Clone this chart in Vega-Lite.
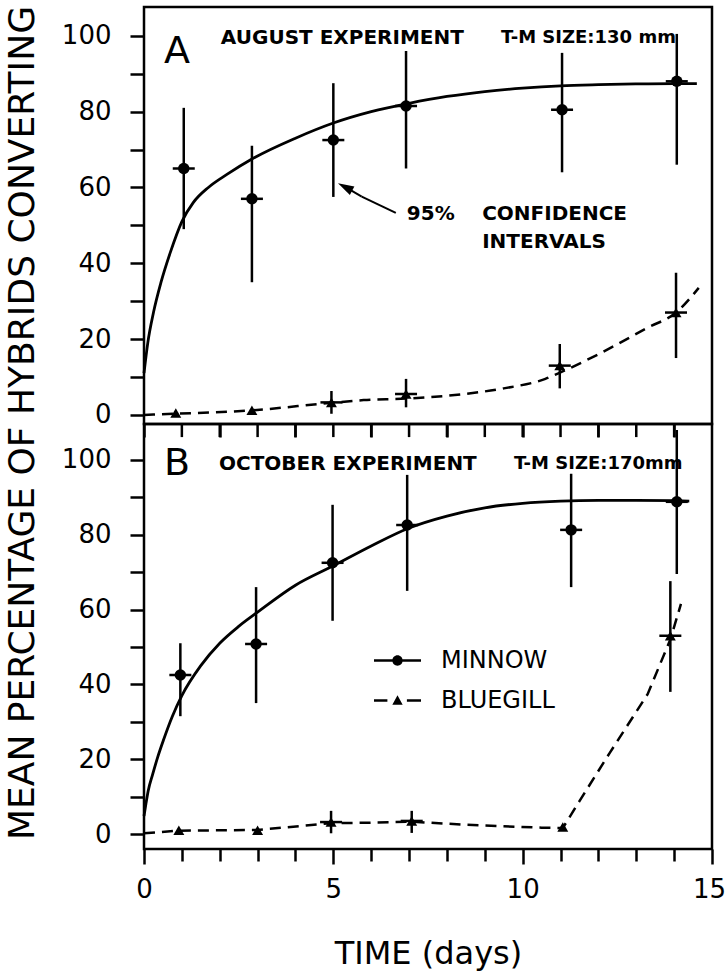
{
  "$schema": "https://vega.github.io/schema/vega-lite/v6.json",
  "background": "white",
  "padding": {"left": 5, "top": 5, "right": 5, "bottom": 5},
  "title": {"text": "MEAN PERCENTAGE OF HYBRIDS CONVERTING", "orient": "left", "anchor": "middle", "font": "DejaVu Sans", "fontSize": 36, "fontWeight": "normal", "color": "black", "offset": 18, "dx": 65},
  "config": {
    "view": {"stroke": "black", "strokeWidth": 2.5},
    "axis": {"labelFont": "DejaVu Sans", "titleFont": "DejaVu Sans", "labelColor": "black", "titleColor": "black", "tickColor": "black", "tickWidth": 2.5, "domain": false, "grid": false, "labelFontSize": 28, "labelFlush": false, "labelOverlap": false}
  },
  "datasets": {
    "points": [
      {"panel": "A", "species": "MINNOW", "x": 1.05, "y": 65, "lo": 49, "hi": 81},
      {"panel": "A", "species": "MINNOW", "x": 2.85, "y": 57, "lo": 35, "hi": 71},
      {"panel": "A", "species": "MINNOW", "x": 5.0, "y": 72.5, "lo": 57.5, "hi": 87.5},
      {"panel": "A", "species": "MINNOW", "x": 6.92, "y": 81.5, "lo": 65, "hi": 96},
      {"panel": "A", "species": "MINNOW", "x": 11.04, "y": 80.5, "lo": 64, "hi": 95.5},
      {"panel": "A", "species": "MINNOW", "x": 14.07, "y": 88, "lo": 66, "hi": 100.5},
      {"panel": "A", "species": "BLUEGILL", "x": 0.84, "y": 0.5},
      {"panel": "A", "species": "BLUEGILL", "x": 2.85, "y": 1.2},
      {"panel": "A", "species": "BLUEGILL", "x": 4.95, "y": 3.3, "lo": 0.3, "hi": 6.3},
      {"panel": "A", "species": "BLUEGILL", "x": 6.92, "y": 5.5, "lo": 2, "hi": 9.5},
      {"panel": "A", "species": "BLUEGILL", "x": 10.98, "y": 13, "lo": 7, "hi": 18.7},
      {"panel": "A", "species": "BLUEGILL", "x": 14.05, "y": 27, "lo": 15, "hi": 37.5},
      {"panel": "B", "species": "MINNOW", "x": 0.96, "y": 42.5, "lo": 31.5, "hi": 51},
      {"panel": "B", "species": "MINNOW", "x": 2.96, "y": 50.8, "lo": 35, "hi": 66},
      {"panel": "B", "species": "MINNOW", "x": 4.98, "y": 72.5, "lo": 57, "hi": 88},
      {"panel": "B", "species": "MINNOW", "x": 6.95, "y": 82.6, "lo": 65, "hi": 96},
      {"panel": "B", "species": "MINNOW", "x": 11.28, "y": 81.3, "lo": 66, "hi": 96.3},
      {"panel": "B", "species": "MINNOW", "x": 14.07, "y": 88.8, "lo": 69.5, "hi": 108},
      {"panel": "B", "species": "BLUEGILL", "x": 0.92, "y": 1},
      {"panel": "B", "species": "BLUEGILL", "x": 3.0, "y": 1},
      {"panel": "B", "species": "BLUEGILL", "x": 4.94, "y": 3.2, "lo": 0.2, "hi": 6.2},
      {"panel": "B", "species": "BLUEGILL", "x": 7.07, "y": 3.5, "lo": 0.3, "hi": 6.2},
      {"panel": "B", "species": "BLUEGILL", "x": 11.06, "y": 1.9},
      {"panel": "B", "species": "BLUEGILL", "x": 13.9, "y": 53, "lo": 38, "hi": 67.6}
    ],
    "dayTicks": [
      {"day": 1}, {"day": 2}, {"day": 3}, {"day": 4}, {"day": 5}, {"day": 6}, {"day": 7},
      {"day": 8}, {"day": 9}, {"day": 10}, {"day": 11}, {"day": 12}, {"day": 13}, {"day": 14}
    ],
    "curves": [
      {"panel": "A", "species": "MINNOW", "x": 0, "y": 11},
      {"panel": "A", "species": "MINNOW", "x": 0.1, "y": 19},
      {"panel": "A", "species": "MINNOW", "x": 0.25, "y": 27},
      {"panel": "A", "species": "MINNOW", "x": 0.45, "y": 35},
      {"panel": "A", "species": "MINNOW", "x": 0.7, "y": 43},
      {"panel": "A", "species": "MINNOW", "x": 1.0, "y": 51},
      {"panel": "A", "species": "MINNOW", "x": 1.3, "y": 56},
      {"panel": "A", "species": "MINNOW", "x": 1.7, "y": 60},
      {"panel": "A", "species": "MINNOW", "x": 2.2, "y": 63.5},
      {"panel": "A", "species": "MINNOW", "x": 2.85, "y": 67.5},
      {"panel": "A", "species": "MINNOW", "x": 4, "y": 73},
      {"panel": "A", "species": "MINNOW", "x": 5, "y": 77},
      {"panel": "A", "species": "MINNOW", "x": 6, "y": 80},
      {"panel": "A", "species": "MINNOW", "x": 7, "y": 82.2},
      {"panel": "A", "species": "MINNOW", "x": 8, "y": 84},
      {"panel": "A", "species": "MINNOW", "x": 9, "y": 85.3},
      {"panel": "A", "species": "MINNOW", "x": 10, "y": 86.2},
      {"panel": "A", "species": "MINNOW", "x": 11, "y": 86.8},
      {"panel": "A", "species": "MINNOW", "x": 12, "y": 87.1},
      {"panel": "A", "species": "MINNOW", "x": 13, "y": 87.3},
      {"panel": "A", "species": "MINNOW", "x": 14, "y": 87.4},
      {"panel": "A", "species": "MINNOW", "x": 14.6, "y": 87.4},
      {"panel": "A", "species": "BLUEGILL", "x": 0, "y": 0},
      {"panel": "A", "species": "BLUEGILL", "x": 0.84, "y": 0.3},
      {"panel": "A", "species": "BLUEGILL", "x": 2.85, "y": 1.2},
      {"panel": "A", "species": "BLUEGILL", "x": 4.95, "y": 3.2},
      {"panel": "A", "species": "BLUEGILL", "x": 5.8, "y": 3.9},
      {"panel": "A", "species": "BLUEGILL", "x": 6.92, "y": 4.3},
      {"panel": "A", "species": "BLUEGILL", "x": 8.45, "y": 5.5},
      {"panel": "A", "species": "BLUEGILL", "x": 9.5, "y": 7},
      {"panel": "A", "species": "BLUEGILL", "x": 10.6, "y": 9.5},
      {"panel": "A", "species": "BLUEGILL", "x": 11.04, "y": 11.4},
      {"panel": "A", "species": "BLUEGILL", "x": 12, "y": 16},
      {"panel": "A", "species": "BLUEGILL", "x": 13.3, "y": 23},
      {"panel": "A", "species": "BLUEGILL", "x": 14.05, "y": 27},
      {"panel": "A", "species": "BLUEGILL", "x": 14.65, "y": 33.5},
      {"panel": "B", "species": "MINNOW", "x": 0, "y": 4.8},
      {"panel": "B", "species": "MINNOW", "x": 0.05, "y": 8},
      {"panel": "B", "species": "MINNOW", "x": 0.11, "y": 11.5},
      {"panel": "B", "species": "MINNOW", "x": 0.23, "y": 16},
      {"panel": "B", "species": "MINNOW", "x": 0.36, "y": 20.5},
      {"panel": "B", "species": "MINNOW", "x": 0.51, "y": 25},
      {"panel": "B", "species": "MINNOW", "x": 0.75, "y": 31.5},
      {"panel": "B", "species": "MINNOW", "x": 1.0, "y": 37},
      {"panel": "B", "species": "MINNOW", "x": 1.5, "y": 45},
      {"panel": "B", "species": "MINNOW", "x": 2, "y": 51},
      {"panel": "B", "species": "MINNOW", "x": 2.5, "y": 55.5},
      {"panel": "B", "species": "MINNOW", "x": 3, "y": 59.3},
      {"panel": "B", "species": "MINNOW", "x": 4, "y": 66.5},
      {"panel": "B", "species": "MINNOW", "x": 5, "y": 71.7},
      {"panel": "B", "species": "MINNOW", "x": 6, "y": 77},
      {"panel": "B", "species": "MINNOW", "x": 7, "y": 81.8},
      {"panel": "B", "species": "MINNOW", "x": 8, "y": 85},
      {"panel": "B", "species": "MINNOW", "x": 9, "y": 87.2},
      {"panel": "B", "species": "MINNOW", "x": 10, "y": 88.4},
      {"panel": "B", "species": "MINNOW", "x": 11, "y": 89},
      {"panel": "B", "species": "MINNOW", "x": 12, "y": 89.2},
      {"panel": "B", "species": "MINNOW", "x": 13, "y": 89.2},
      {"panel": "B", "species": "MINNOW", "x": 14, "y": 89.1},
      {"panel": "B", "species": "MINNOW", "x": 14.4, "y": 89},
      {"panel": "B", "species": "BLUEGILL", "x": 0, "y": 0.2},
      {"panel": "B", "species": "BLUEGILL", "x": 0.92, "y": 0.9},
      {"panel": "B", "species": "BLUEGILL", "x": 3.0, "y": 1.1},
      {"panel": "B", "species": "BLUEGILL", "x": 4.94, "y": 2.9},
      {"panel": "B", "species": "BLUEGILL", "x": 5.8, "y": 3},
      {"panel": "B", "species": "BLUEGILL", "x": 7.07, "y": 3.3},
      {"panel": "B", "species": "BLUEGILL", "x": 8.45, "y": 2.5},
      {"panel": "B", "species": "BLUEGILL", "x": 10.5, "y": 1.7},
      {"panel": "B", "species": "BLUEGILL", "x": 11.06, "y": 1.6},
      {"panel": "B", "species": "BLUEGILL", "x": 11.5, "y": 8.8},
      {"panel": "B", "species": "BLUEGILL", "x": 12.3, "y": 21.7},
      {"panel": "B", "species": "BLUEGILL", "x": 13.3, "y": 37.4},
      {"panel": "B", "species": "BLUEGILL", "x": 13.9, "y": 52},
      {"panel": "B", "species": "BLUEGILL", "x": 14.18, "y": 61.5}
    ]
  },
  "spacing": 0,
  "bounds": "flush",
  "resolve": {"scale": {"shape": "independent"}, "legend": {"shape": "independent"}},
  "vconcat": [
    {
      "width": 568,
      "height": 417,
      "layer": [
        {"data": {"name": "curves"}, "transform": [{"filter": "datum.panel === 'A' && datum.species === 'MINNOW'"}], "mark": {"type": "line", "color": "black", "strokeWidth": 2.8, "interpolate": "monotone"},
          "encoding": {
            "x": {"field": "x", "type": "quantitative", "scale": {"domain": [0, 15], "nice": false, "zero": false}, "axis": {"values": [0,1,2,3,4,5,6,7,8,9,10,11,12,13,14,15], "labels": false, "title": null, "tickSize": 13, "orient": "bottom", "labelOverlap": false}},
            "y": {"field": "y", "type": "quantitative", "scale": {"domain": [-2.4, 107.6], "nice": false, "zero": false}, "axis": {"values": [0,10,20,30,40,50,60,70,80,90,100], "labelExpr": "datum.value % 20 === 0 ? datum.label : ''", "title": null, "tickSize": 14, "labelPadding": 19, "labelFontSize": 26, "labelOverlap": false}}
          }},
        {"data": {"name": "curves"}, "transform": [{"filter": "datum.panel === 'A' && datum.species === 'BLUEGILL'"}], "mark": {"type": "line", "color": "black", "strokeWidth": 2.5, "strokeDash": [11, 7], "interpolate": "monotone"},
          "encoding": {"x": {"field": "x", "type": "quantitative", "axis": {"title": null}}, "y": {"field": "y", "type": "quantitative", "axis": {"title": null}}}},
        {"data": {"name": "points"}, "transform": [{"filter": "datum.panel === 'A' && datum.lo != null"}], "mark": {"type": "rule", "color": "black", "strokeWidth": 2.5},
          "encoding": {"x": {"field": "x", "type": "quantitative", "axis": {"title": null}}, "y": {"field": "lo", "type": "quantitative", "axis": {"title": null}}, "y2": {"field": "hi"}}},
        {"data": {"name": "points"}, "transform": [{"filter": "datum.panel === 'A' && datum.lo != null"}], "mark": {"type": "tick", "orient": "horizontal", "color": "black", "opacity": 1, "size": 22, "thickness": 2.5},
          "encoding": {"x": {"field": "x", "type": "quantitative", "axis": {"title": null}}, "y": {"field": "y", "type": "quantitative", "axis": {"title": null}}}},
        {"data": {"name": "points"}, "transform": [{"filter": "datum.panel === 'A' && datum.species === 'MINNOW'"}], "mark": {"type": "point", "shape": "circle", "filled": true, "color": "black", "opacity": 1, "size": 130},
          "encoding": {"x": {"field": "x", "type": "quantitative", "axis": {"title": null}}, "y": {"field": "y", "type": "quantitative", "axis": {"title": null}}}},
        {"data": {"name": "points"}, "transform": [{"filter": "datum.panel === 'A' && datum.species === 'BLUEGILL'"}], "mark": {"type": "point", "shape": "triangle-up", "filled": true, "color": "black", "opacity": 1, "size": 120},
          "encoding": {"x": {"field": "x", "type": "quantitative", "axis": {"title": null}}, "y": {"field": "y", "type": "quantitative", "axis": {"title": null}}}},
        {"data": {"values": [{"t": "A"}]}, "mark": {"type": "text", "text": "A", "font": "DejaVu Sans", "fontSize": 38, "align": "center", "baseline": "middle", "color": "black"},
          "encoding": {"x": {"datum": 0.87, "type": "quantitative"}, "y": {"datum": 95.8, "type": "quantitative"}}},
        {"data": {"values": [{"t": "AUG"}]}, "mark": {"type": "text", "text": "AUGUST EXPERIMENT", "font": "DejaVu Sans", "fontWeight": "bold", "fontSize": 20, "align": "left", "baseline": "middle", "color": "black"},
          "encoding": {"x": {"datum": 2.03, "type": "quantitative"}, "y": {"datum": 99.5, "type": "quantitative"}}},
        {"data": {"values": [{"t": "TM"}]}, "mark": {"type": "text", "text": "T-M SIZE:130 mm", "font": "DejaVu Sans", "fontWeight": "bold", "fontSize": 18, "align": "left", "baseline": "middle", "color": "black"},
          "encoding": {"x": {"datum": 9.43, "type": "quantitative"}, "y": {"datum": 99.5, "type": "quantitative"}}},
        {"data": {"values": [{"t": "95"}]}, "mark": {"type": "text", "text": "95%", "font": "DejaVu Sans", "fontWeight": "bold", "fontSize": 20, "align": "left", "baseline": "middle", "color": "black"},
          "encoding": {"x": {"datum": 6.94, "type": "quantitative"}, "y": {"datum": 53, "type": "quantitative"}}},
        {"data": {"values": [{"t": "CONF"}]}, "mark": {"type": "text", "text": "CONFIDENCE", "font": "DejaVu Sans", "fontWeight": "bold", "fontSize": 20, "align": "left", "baseline": "middle", "color": "black"},
          "encoding": {"x": {"datum": 8.93, "type": "quantitative"}, "y": {"datum": 53, "type": "quantitative"}}},
        {"data": {"values": [{"t": "INT"}]}, "mark": {"type": "text", "text": "INTERVALS", "font": "DejaVu Sans", "fontWeight": "bold", "fontSize": 20, "align": "left", "baseline": "middle", "color": "black"},
          "encoding": {"x": {"datum": 8.93, "type": "quantitative"}, "y": {"datum": 45.7, "type": "quantitative"}}},
        {"data": {"values": [{"t": "arrow1"}]}, "mark": {"type": "rule", "color": "black", "strokeWidth": 2},
          "encoding": {"x": {"datum": 6.65, "type": "quantitative"}, "y": {"datum": 53.3, "type": "quantitative"}, "x2": {"datum": 5.75}, "y2": {"datum": 57.6}}},
        {"data": {"values": [{"t": "arrow2"}]}, "mark": {"type": "rule", "color": "black", "strokeWidth": 2},
          "encoding": {"x": {"datum": 5.75, "type": "quantitative"}, "y": {"datum": 57.6, "type": "quantitative"}, "x2": {"datum": 5.3}, "y2": {"datum": 60.2}}},
        {"data": {"values": [{"t": "head"}]}, "mark": {"type": "point", "filled": true, "color": "black", "opacity": 1, "size": 256, "shape": "M0,-1L0.6,1L-0.6,1Z", "angle": 298},
          "encoding": {"x": {"datum": 5.31, "type": "quantitative"}, "y": {"datum": 60.1, "type": "quantitative"}}}
      ]
    },
    {
      "width": 568,
      "height": 425,
      "resolve": {"axis": {"x": "independent"}},
      "layer": [
        {"data": {"name": "curves"}, "transform": [{"filter": "datum.panel === 'B' && datum.species === 'MINNOW'"}], "mark": {"type": "line", "color": "black", "strokeWidth": 2.8, "interpolate": "monotone"},
          "encoding": {
            "x": {"field": "x", "type": "quantitative", "scale": {"domain": [0, 15], "nice": false, "zero": false}, "axis": {"values": [0, 5, 10, 15], "title": "TIME (days)", "titleFontSize": 32, "titleFontWeight": "normal", "titlePadding": 36, "tickSize": 15, "labelPadding": 12, "labelFontSize": 26, "labelOffset": {"condition": {"test": "datum.value === 15", "value": -3}, "value": 0}, "orient": "bottom", "labelOverlap": false}},
            "y": {"field": "y", "type": "quantitative", "scale": {"domain": [-4, 109.6], "nice": false, "zero": false}, "axis": {"values": [0,10,20,30,40,50,60,70,80,90,100], "labelExpr": "datum.value % 20 === 0 ? datum.label : ''", "title": null, "tickSize": 14, "labelPadding": 19, "labelFontSize": 26, "labelOverlap": false}}
          }},
        {"data": {"name": "curves"}, "transform": [{"filter": "datum.panel === 'B' && datum.species === 'BLUEGILL'"}], "mark": {"type": "line", "color": "black", "strokeWidth": 2.5, "strokeDash": [11, 7], "interpolate": "linear"},
          "encoding": {"x": {"field": "x", "type": "quantitative", "axis": {"values": [1,2,3,4,6,7,8,9,11,12,13,14], "labels": false, "title": null, "tickSize": 12, "orient": "bottom"}}, "y": {"field": "y", "type": "quantitative", "axis": {"title": null}}}},
        {"data": {"name": "dayTicks"}, "mark": {"type": "rule", "color": "black", "strokeWidth": 2.5},
          "encoding": {"x": {"field": "day", "type": "quantitative", "axis": null}, "y": {"datum": 109.6, "type": "quantitative"}, "y2": {"datum": 106.1}}},
        {"data": {"name": "points"}, "transform": [{"filter": "datum.panel === 'B' && datum.lo != null"}], "mark": {"type": "rule", "color": "black", "strokeWidth": 2.5},
          "encoding": {"x": {"field": "x", "type": "quantitative", "axis": null}, "y": {"field": "lo", "type": "quantitative", "axis": {"title": null}}, "y2": {"field": "hi"}}},
        {"data": {"name": "points"}, "transform": [{"filter": "datum.panel === 'B' && datum.lo != null"}], "mark": {"type": "tick", "orient": "horizontal", "color": "black", "opacity": 1, "size": 22, "thickness": 2.5},
          "encoding": {"x": {"field": "x", "type": "quantitative", "axis": null}, "y": {"field": "y", "type": "quantitative", "axis": {"title": null}}}},
        {"data": {"name": "points"}, "transform": [{"filter": "datum.panel === 'B' && datum.species === 'MINNOW'"}], "mark": {"type": "point", "shape": "circle", "filled": true, "color": "black", "opacity": 1, "size": 130},
          "encoding": {"x": {"field": "x", "type": "quantitative", "axis": null}, "y": {"field": "y", "type": "quantitative", "axis": {"title": null}}}},
        {"data": {"name": "points"}, "transform": [{"filter": "datum.panel === 'B' && datum.species === 'BLUEGILL'"}], "mark": {"type": "point", "shape": "triangle-up", "filled": true, "color": "black", "opacity": 1, "size": 120},
          "encoding": {"x": {"field": "x", "type": "quantitative", "axis": null}, "y": {"field": "y", "type": "quantitative", "axis": {"title": null}}}},
        {"data": {"values": []}, "mark": {"type": "point", "filled": true, "color": "black", "opacity": 1},
          "encoding": {"x": {"field": "x", "type": "quantitative", "axis": null}, "y": {"field": "y", "type": "quantitative", "axis": {"title": null}},
            "shape": {"field": "key", "type": "nominal", "scale": {"domain": ["MINNOW", "BLUEGILL"], "range": ["M-1,-0.05L-0.2,-0.05L-0.2,0.05L-1,0.05Z M0.2,-0.05L1,-0.05L1,0.05L0.2,0.05Z M-0.22,0A0.22,0.22,0,1,1,0.22,0A0.22,0.22,0,1,1,-0.22,0Z", "M-1,-0.05L-0.43,-0.05L-0.43,0.05L-1,0.05Z M0.4,-0.05L1,-0.05L1,0.05L0.4,0.05Z M-0.22,0.18L0,-0.22L0.22,0.18Z"]},
              "legend": {"title": null, "orient": "none", "legendX": 229, "legendY": 212, "symbolSize": 2209, "labelFont": "DejaVu Sans", "labelFontSize": 24, "labelColor": "black", "labelOffset": 19, "rowPadding": 3, "symbolFillColor": "black", "symbolOpacity": 1}}}},
        {"data": {"values": [{"t": "B"}]}, "mark": {"type": "text", "text": "B", "font": "DejaVu Sans", "fontSize": 38, "align": "center", "baseline": "middle", "color": "black"},
          "encoding": {"x": {"datum": 0.87, "type": "quantitative", "axis": null}, "y": {"datum": 98.9, "type": "quantitative"}}},
        {"data": {"values": [{"t": "OCT"}]}, "mark": {"type": "text", "text": "OCTOBER EXPERIMENT", "font": "DejaVu Sans", "fontWeight": "bold", "fontSize": 20, "align": "left", "baseline": "middle", "color": "black"},
          "encoding": {"x": {"datum": 1.98, "type": "quantitative", "axis": null}, "y": {"datum": 98.9, "type": "quantitative"}}},
        {"data": {"values": [{"t": "TM2"}]}, "mark": {"type": "text", "text": "T-M SIZE:170mm", "font": "DejaVu Sans", "fontWeight": "bold", "fontSize": 18, "align": "left", "baseline": "middle", "color": "black"},
          "encoding": {"x": {"datum": 9.77, "type": "quantitative", "axis": null}, "y": {"datum": 98.9, "type": "quantitative"}}}
      ]
    }
  ]
}
